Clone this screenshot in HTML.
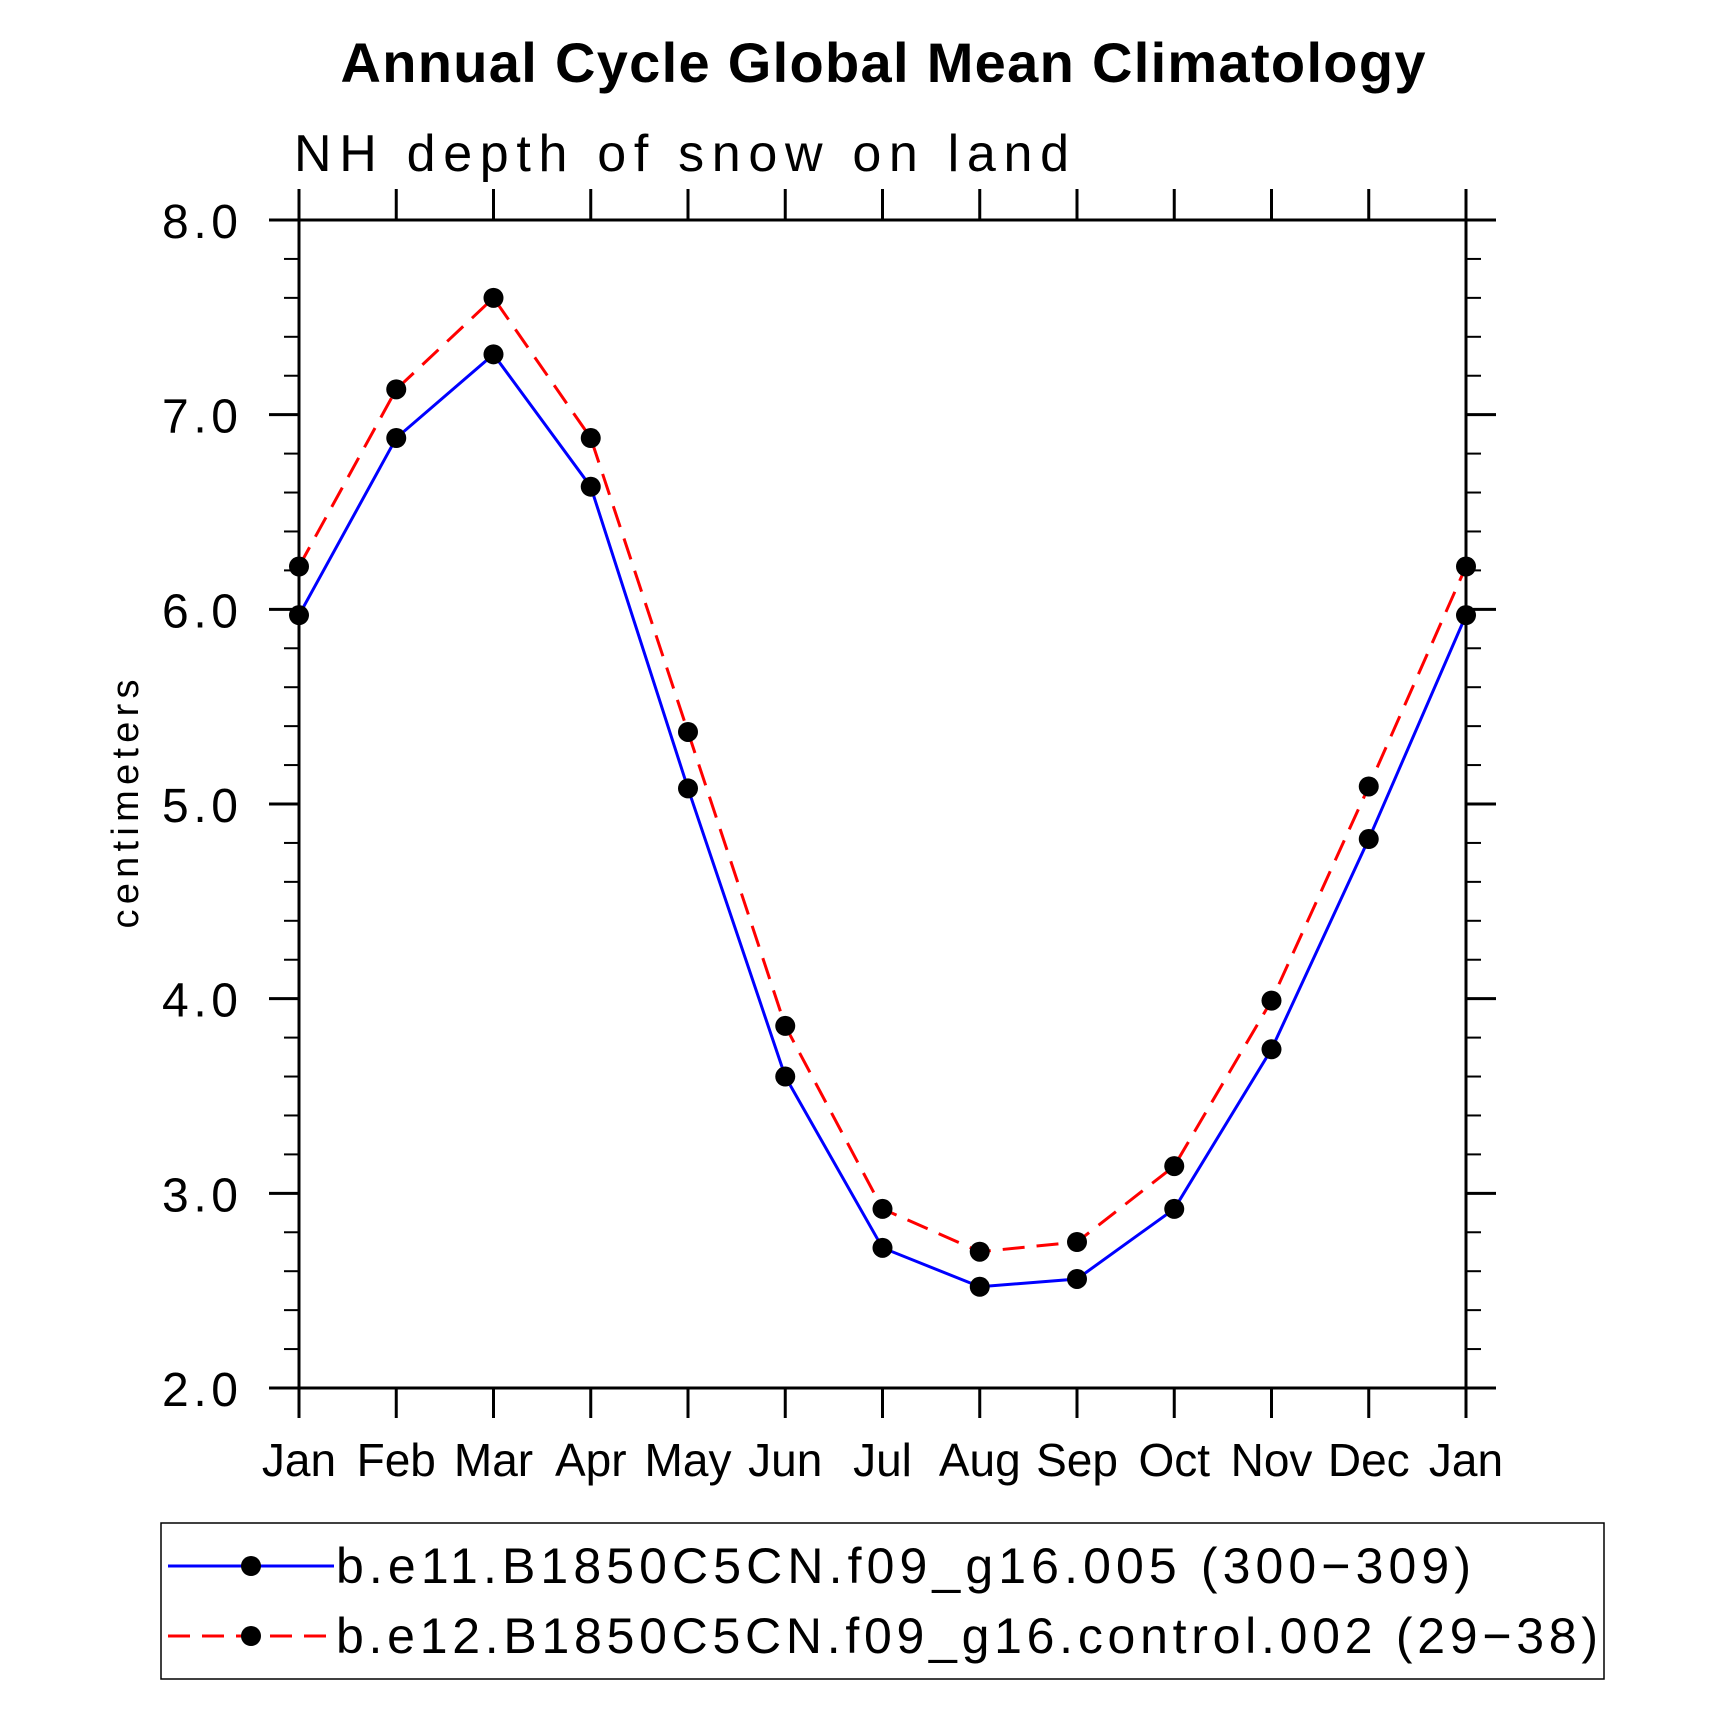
<!DOCTYPE html>
<html><head><meta charset="utf-8"><style>
html,body{margin:0;padding:0;background:#fff;}
svg{display:block;font-family:"Liberation Sans",sans-serif;}
</style></head><body>
<svg id="chart" width="1710" height="1719" viewBox="0 0 1710 1719">
<text x="883" y="82" text-anchor="middle" font-size="56" font-weight="bold" textLength="1085">Annual Cycle Global Mean Climatology</text>
<text x="294" y="171" font-size="52" textLength="775">NH depth of snow on land</text>
<text transform="translate(138,804) rotate(-90)" text-anchor="middle" font-size="38" textLength="249">centimeters</text>
<g id="axes"></g>
<g id="series"></g>
<g>
<rect x="161" y="1523" width="1443" height="156" fill="none" stroke="#000" stroke-width="1.5"/>
<line x1="168" y1="1566" x2="334" y2="1566" stroke="#0000ff" stroke-width="3"/>
<circle cx="251" cy="1566" r="10" fill="#000"/>
<text x="336" y="1583" font-size="50" textLength="1135">b.e11.B1850C5CN.f09_g16.005 (300−309)</text>
<line x1="168" y1="1636" x2="334" y2="1636" stroke="#ff0000" stroke-width="3" stroke-dasharray="22,12"/>
<circle cx="251" cy="1636" r="10" fill="#000"/>
<text x="336" y="1653" font-size="50" textLength="1262">b.e12.B1850C5CN.f09_g16.control.002 (29−38)</text>
</g>
</svg>
<script>
const months = ["Jan","Feb","Mar","Apr","May","Jun","Jul","Aug","Sep","Oct","Nov","Dec","Jan"];
const blueValues = [5.97,6.88,7.31,6.63,5.08,3.60,2.72,2.52,2.56,2.92,3.74,4.82,5.97];
const redValues = [6.22,7.13,7.60,6.88,5.37,3.86,2.92,2.70,2.75,3.14,3.99,5.09,6.22];
const yTickLabels = ["2.0","3.0","4.0","5.0","6.0","7.0","8.0"];

const NS="http://www.w3.org/2000/svg";
const L=299,R=1466,T=220,B=1388,YMIN=2,YMAX=8;
function xPos(i){return L+(R-L)*i/(months.length-1);}
function yPos(v){return B-(v-YMIN)/(YMAX-YMIN)*(B-T);}
function mk(tag,attrs,parent){const e=document.createElementNS(NS,tag);for(const k in attrs)e.setAttribute(k,attrs[k]);parent.appendChild(e);return e;}
const axes=document.getElementById('axes');
const frame=mk('rect',{x:L,y:T,width:R-L,height:B-T,fill:'none',stroke:'#000','stroke-width':3},axes);


months.forEach((m,i)=>{
  const x=xPos(i);
  const t1=mk('line',{x1:x,y1:B,x2:x,y2:B+30,stroke:'#000','stroke-width':3},axes);
  
  
  const t2=mk('line',{x1:x,y1:T,x2:x,y2:T-31,stroke:'#000','stroke-width':3},axes);
  
  
  const lb=mk('text',{x:x,y:1476,'text-anchor':'middle','font-size':46},axes);
  lb.textContent=m;
  
  
});
for(let k=0;k<=30;k++){
  const v=YMIN+k*0.2, y=yPos(v), major=(k%5===0);
  const len=major?30:15;
  const a=mk('line',{x1:L-len,y1:y,x2:L,y2:y,stroke:'#000','stroke-width':major?3:2},axes);
  
  
  const b=mk('line',{x1:R,y1:y,x2:R+len,y2:y,stroke:'#000','stroke-width':major?3:2},axes);
  
  
}
yTickLabels.forEach(s=>{
  const v=parseFloat(s);
  const lb=mk('text',{x:162,y:yPos(v)+18,'font-size':48,textLength:76},axes);
  lb.textContent=s;
  
  
});
const series=document.getElementById('series');
function drawSeries(vals,color,dash,name){
  const pts=vals.map((v,i)=>xPos(i)+','+yPos(v)).join(' ');
  const pl=mk('polyline',{points:pts,fill:'none',stroke:color,'stroke-width':3},series);
  if(dash)pl.setAttribute('stroke-dasharray',dash);
  
  
  vals.forEach((v,i)=>{
    const c=mk('circle',{cx:xPos(i),cy:yPos(v),r:10,fill:'#000'},series);
    
    
  });
}
drawSeries(blueValues,'#0000ff',null,'series-e11');
drawSeries(redValues,'#ff0000','22,12','series-e12');
</script>
</body></html>
